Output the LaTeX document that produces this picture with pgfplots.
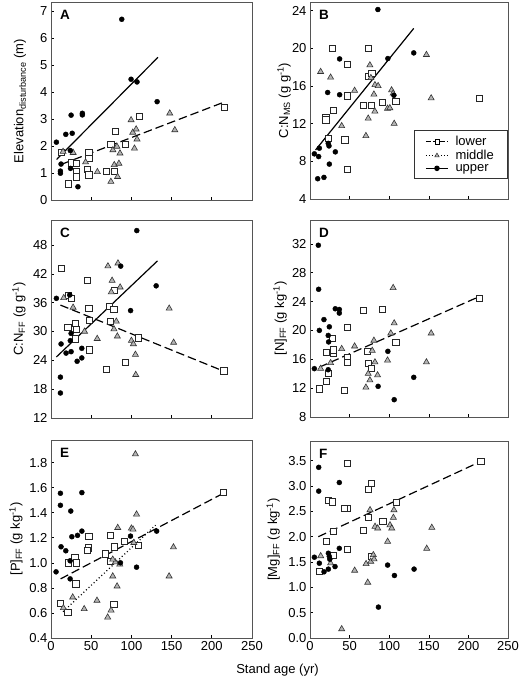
\documentclass[border=0pt]{standalone}
\usepackage{fontspec}
\setmainfont{Liberation Sans}
\usepackage{pgfplots}
\pgfplotsset{compat=1.18}
\definecolor{boxc}{HTML}{555555}
\definecolor{trifill}{HTML}{B4B4B4}
\tikzset{plet/.style={anchor=north west, inner sep=0pt, font=\bfseries\fontsize{13.5}{15}\selectfont}}
\pgfplotsset{
  panel/.style={scale only axis, width=201pt, height=198pt,
    xmin=0, xmax=250, xtick={0,50,100,150,200,250},
    tick align=inside, major tick length=3pt,
    xtick pos=lower, ytick pos=left,
    axis line style={boxc, line width=0.8pt},
    tick style={black, line width=0.6pt},
    /pgf/number format/assume math mode=true,
    tick label style={font=\fontsize{13}{15}\selectfont},
    label style={font=\fontsize{13}{15}\selectfont},
    ylabel style={anchor=center},
  },
  lowm/.style={only marks, mark=square*, mark size=3.1pt, mark options={draw=black!85, fill=white, line width=0.6pt}},
  midm/.style={only marks, mark=triangle*, mark size=3.5pt, mark options={draw=black!80, fill=trifill, line width=0.6pt}},
  upm/.style={only marks, mark=*, mark size=2.5pt, mark options={draw=black, fill=black}},
  lowl/.style={no marks, black, line width=1.2pt, dash pattern=on 8.5pt off 4pt},
  midl/.style={no marks, black, line width=1.2pt, dash pattern=on 1pt off 2.5pt},
  upl/.style={no marks, black, line width=1.2pt},
}
\begin{document}
\begin{tikzpicture}
\useasboundingbox (0pt,0pt) rectangle (520pt,680pt);
% ---------------- A
\begin{axis}[panel, at={(51pt,480pt)}, anchor=south west, width=201pt,
  ymin=0, ymax=7.33, ytick={0,1,...,7}, xticklabels={},
  ylabel={Elevation\textsubscript{disturbance} (m)},
  ylabel style={at={(axis description cs:-0.154,0.5)}}]
\addplot[upl] coordinates {(7,1.5) (133,5.28)};
\addplot[lowl] coordinates {(13.8,1.33) (215,3.62)};
\addplot[lowm] coordinates {(13,1.77) (22,0.6) (25,1.38) (31,1.36) (31,1.07) (31,0.86) (47,1.77) (47,1.54) (45,1.14) (47,0.93) (69,1.07) (74.5,2.05) (79.5,2.55) (78.7,1.05) (92,2.05) (109.6,3.09) (215.5,3.44)};
\addplot[midm] coordinates {(15,1.79) (27.6,1.75) (43,1.4) (57.7,1.04) (74.5,0.68) (77,1.85) (78.7,1.3) (82,1.98) (82.8,0.86) (85.8,1.73) (84.5,1.35) (99.6,2.96) (101.7,2.5) (105.9,2.62) (103.8,1.91) (107,2.25) (147.7,3.21) (154,2.59)};
\addplot[upm] coordinates {(6.7,2.14) (12.5,1.33) (11.7,1.07) (11.7,0.99) (18.4,2.43) (25,3.14) (26.4,2.47) (24,1.83) (24.3,1.17) (39,3.21) (39,3.15) (33.5,0.49) (88,6.69) (99.6,4.47) (107,4.37) (132,3.64)};
\node[plet] at (rel axis cs:0.045,0.96) {A};
\end{axis}
% ---------------- B
\begin{axis}[panel, at={(310pt,481pt)}, anchor=south west, width=198pt, height=197pt,
  ymin=4, ymax=24.9, ytick={4,8,...,24}, xticklabels={},
  ylabel={C:N\textsubscript{MS} (g g\textsuperscript{-1})},
  ylabel style={at={(axis description cs:-0.131,0.5)}},
  legend style={at={(rel axis cs:0.995,0.35)}, anchor=north east, draw=black!80,
    font=\fontsize{13}{15}\selectfont, inner xsep=11pt, inner ysep=4pt, row sep=-1pt,
    cells={anchor=west}, /tikz/every odd column/.append style={column sep=5pt}},
  legend image code/.code={\draw[mark repeat=2,mark phase=2,#1] plot coordinates {(0pt,0pt) (11pt,0pt) (22pt,0pt)};}]
\addlegendimage{black, line width=1pt, dash pattern=on 5pt off 2pt, mark=square*, mark options={solid, fill=white, draw=black, mark size=2.2pt, line width=0.5pt}}
\addlegendentry{lower}
\addlegendimage{black, line width=0.8pt, dash pattern=on 1pt off 2pt, mark=triangle*, mark options={solid, fill=trifill, draw=black!80, mark size=2.6pt, line width=0.5pt}}
\addlegendentry{middle}
\addlegendimage{black, line width=1.1pt, mark=*, mark options={solid, fill=black, mark size=2.2pt}}
\addlegendentry{upper}
\addplot[upl, forget plot] coordinates {(7,9.2) (131,22.1)};
\addplot[lowm, forget plot] coordinates {(20,12.7) (20,12.4) (23,10.4) (27.7,20.0) (29.4,13.4) (46.6,18.3) (46.6,14.95) (44,10.27) (46.6,7.17) (67,13.9) (73.5,20.0) (74,17.0) (78,17.3) (77.7,13.96) (91.6,14.3) (108.4,14.4) (214,14.7)};
\addplot[midm, forget plot] coordinates {(13.4,17.5) (26,16.9) (40,11.75) (56.3,15.5) (70.6,10.7) (73.5,12.55) (75.6,18.2) (76.9,16.85) (80.7,15.1) (81.9,13.3) (82,16.1) (86,16) (97.9,13.6) (100.8,13.65) (103,15.55) (105,15.2) (106.3,12.0) (147,19.3) (153,14.7)};
\addplot[upm, forget plot] coordinates {(5.5,8.79) (10.9,8.5) (9.7,6.15) (17.6,6.29) (11.8,9.39) (22.3,15.3) (24,9.63) (24.4,7.7) (23,9.9) (32,9.0) (37.4,18.86) (37.4,15.06) (85.7,24.1) (98.3,18.9) (105.9,15.0) (131,19.5)};
\node[plet] at (rel axis cs:0.045,0.96) {B};
\end{axis}
% ---------------- C
\begin{axis}[panel, at={(51pt,262pt)}, anchor=south west, width=201pt,
  ymin=12, ymax=53.2, ytick={12,18,...,48}, xticklabels={},
  ylabel={C:N\textsubscript{FF} (g g\textsuperscript{-1})},
  ylabel style={at={(axis description cs:-0.159,0.5)}}]
\addplot[upl] coordinates {(6.7,24.7) (132.5,44.7)};
\addplot[lowl] coordinates {(11.7,35.5) (214,21.8)};
\addplot[lowm] coordinates {(13,43.2) (21,30.9) (22,37.6) (25,36.9) (30.4,31.7) (31.3,30.5) (30,28.5) (45,40.6) (47,34.9) (47.5,32.4) (47.5,26.2) (68.3,22.2) (72.9,35.2) (79,38.5) (78,34.7) (74,32.2) (92,23.6) (109,28.7) (215,21.8)};
\addplot[midm] coordinates {(15.8,37) (27.5,35) (41.7,30) (57.5,28.5) (70.8,43.6) (76,40.6) (75,38.2) (83.3,44.2) (86,39.2) (78.3,30.5) (81.25,32.1) (82.5,29.0) (100,28.1) (102.5,27.4) (105,25.2) (105.4,21) (147,34.8) (152.5,27.7)};
\addplot[upm] coordinates {(6.7,36.9) (12.5,27.4) (11.7,20.5) (11.7,17.2) (18.75,25.5) (23.3,37.6) (25,29.6) (25,25.8) (24,28.1) (32.5,23.8) (38.3,24.5) (38.3,26.5) (86.7,43.6) (99,34.35) (106.7,51) (130.8,39.5)};
\node[plet] at (rel axis cs:0.045,0.96) {C};
\end{axis}
% ---------------- D
\begin{axis}[panel, at={(310pt,263pt)}, anchor=south west, width=198pt, height=197pt,
  ymin=8, ymax=35.3, ytick={8,12,...,32}, xticklabels={},
  ylabel={[N]\textsubscript{FF} (g kg\textsuperscript{-1})},
  ylabel style={at={(axis description cs:-0.151,0.5)}}]
\addplot[lowl] coordinates {(11.8,14.9) (214,24.7)};
\addplot[lowm] coordinates {(11.8,11.9) (21,13.0) (23,14.0) (21,17.0) (28.6,18.9) (29.4,16.9) (29.4,17.3) (47,20.4) (47,16.3) (47,15.6) (43.3,11.7) (67,22.8) (72.7,17.1) (73.5,15.4) (77.7,14.7) (91.6,22.9) (108.4,18.4) (214,24.5)};
\addplot[midm] coordinates {(13.4,14.7) (26,15.5) (40,17.45) (56.3,17.8) (70.6,12.1) (73.5,14.0) (75.6,13.1) (78.6,17.2) (80.7,18.6) (82,15.6) (85.3,13.8) (97.9,15.85) (102,19.6) (105,25.9) (106.3,21.0) (147,15.6) (153,19.6)};
\addplot[upm] coordinates {(5.5,14.7) (10.5,31.8) (10.9,25.7) (11.8,20.0) (17.6,21.5) (24.4,20.5) (23,19.3) (23.5,18.4) (23,14.55) (31.9,23) (37,22.9) (37,22.4) (86,12.25) (98.3,17.1) (106.3,10.4) (131,13.5)};
\node[plet] at (rel axis cs:0.045,0.96) {D};
\end{axis}
% ---------------- E
\begin{axis}[panel, at={(51pt,42pt)}, anchor=south west, width=201pt,
  ymin=0.4, ymax=1.98, ytick={0.4,0.6,...,1.81},
  yticklabel style={/pgf/number format/.cd, fixed, fixed zerofill, precision=1},
  ylabel={[P]\textsubscript{FF} (g kg\textsuperscript{-1})},
  ylabel style={at={(axis description cs:-0.174,0.5)}}]
\addplot[lowl] coordinates {(12,0.872) (214.4,1.555)};
\addplot[midl] coordinates {(15,0.61) (130,1.30)};
\addplot[lowm] coordinates {(12,0.68) (20.9,0.605) (21.7,1.0) (29.6,1.045) (31.3,1.0) (30.9,0.832) (47,1.213) (46.7,1.12) (45.5,1.1) (68,1.072) (73.8,1.219) (73.8,1.013) (78.8,1.128) (78,0.667) (91.4,1.173) (108.9,1.139) (214.4,1.565)};
\addplot[midm] coordinates {(15.4,0.64) (27,0.725) (41.3,0.632) (57.2,0.699) (70.5,0.565) (74.7,0.621) (76.8,0.893) (82.2,0.813) (83,1.28) (80,1.005) (76.8,1.027) (100,1.275) (102,1.267) (103,1.16) (105,1.867) (106.4,1.387) (146.9,0.893) (152.3,1.125) (85.5,0.987)};
\addplot[upm] coordinates {(6.3,0.928) (11.7,1.555) (11.7,1.459) (12.5,1.128) (18.4,1.096) (23.8,1.016) (24.6,1.413) (23.8,0.872) (25.9,1.208) (33,1.219) (38.4,1.56) (38.4,1.253) (86.4,1.0) (98.9,1.213) (106.4,0.965) (131.4,1.253)};
\node[plet] at (rel axis cs:0.045,0.96) {E};
\end{axis}
% ---------------- F
\begin{axis}[panel, at={(310pt,42pt)}, anchor=south west, width=198pt, height=197pt,
  ymin=0, ymax=3.89, ytick={0,0.5,...,3.5},
  yticklabel style={/pgf/number format/.cd, fixed, fixed zerofill, precision=1},
  ylabel={[Mg]\textsubscript{FF} (g kg\textsuperscript{-1})},
  ylabel style={at={(axis description cs:-0.186,0.5)}}]
\addplot[lowl] coordinates {(10.5,2.0) (214.8,3.48)};
\addplot[lowm] coordinates {(11.8,1.313) (21,1.904) (23.2,2.725) (28.6,2.69) (29.5,2.1) (29.5,1.64) (47.2,3.447) (47.2,2.56) (43,2.56) (47.2,1.753) (67.4,2.134) (73.3,2.935) (74.1,2.383) (77.9,3.053) (77,1.61) (91.8,2.298) (108.7,2.672) (215.7,3.49)};
\addplot[midm] coordinates {(13.5,1.62) (26,1.477) (40,0.177) (56.4,1.333) (70.8,1.464) (72.9,1.096) (75.8,2.528) (76.7,1.51) (80,1.64) (80.9,1.556) (82.1,2.2) (85.5,2.167) (98,1.904) (101,2.23) (103.2,2.167) (105.3,2.377) (106,2.528) (147.4,1.766) (153.8,2.18)};
\addplot[upm] coordinates {(5.5,1.595) (11,3.37) (11,2.9) (11.8,1.477) (17.7,1.307) (23.2,1.674) (24.4,1.61) (23.2,1.36) (25,1.556) (31.6,1.41) (37,3.07) (37,1.77) (86.4,0.61) (98,1.44) (106.6,1.234) (131.4,1.36)};
\node[plet] at (rel axis cs:0.045,0.96) {F};
\end{axis}
\node[font=\fontsize{13}{15}\selectfont] at (277.5pt,10pt) {Stand age (yr)};
\end{tikzpicture}
\end{document}
